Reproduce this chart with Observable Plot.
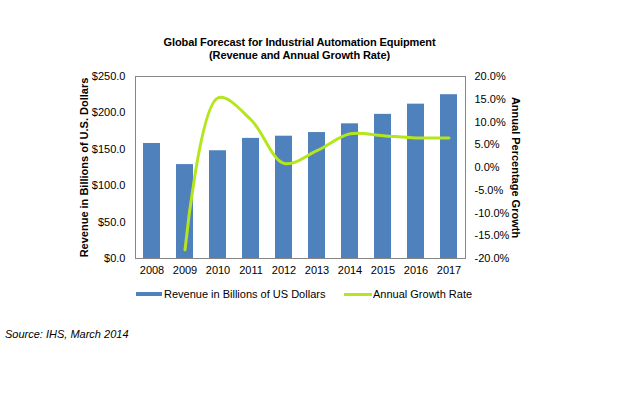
<!DOCTYPE html>
<html>
<head>
<meta charset="utf-8">
<script src="https://cdn.jsdelivr.net/npm/d3@7"></script>
<script src="https://cdn.jsdelivr.net/npm/@observablehq/plot@0.6"></script>
<style>
  html, body { margin: 0; padding: 0; background: #fff; }
  body { width: 617px; height: 394px; font-family: "Liberation Sans", Arial, sans-serif; color: #000; }
  #title { height: 62px; box-sizing: border-box; padding-top: 36px; padding-right: 18px; text-align: center; font-weight: bold; font-size: 11px; line-height: 13px; letter-spacing: -0.1px; }
  #legend { position: relative; height: 22px; font-size: 11px; }
  #legend .sw { position: absolute; }
  #legend .lab { position: absolute; top: 4px; line-height: 13px; white-space: nowrap; }
  #source { position: relative; height: 20px; font-size: 11px; font-style: italic; }
  #source span { position: absolute; left: 5px; top: 22px; }
</style>
</head>
<body>
<div id="title">Global Forecast for Industrial Automation Equipment<br>(Revenue and Annual Growth Rate)</div>
<div id="chart"></div>
<div id="legend">
  <div class="sw" style="left:136px; top:8px; width:26px; height:4px; background:#4f81bd;"></div>
  <div class="lab" style="left:164px;">Revenue in Billions of US Dollars</div>
  <div class="sw" style="left:344px; top:9px; width:28px; height:2.5px; background:#b5e61d;"></div>
  <div class="lab" style="left:373px;">Annual Growth Rate</div>
</div>
<div id="source"><span>Source: IHS, March 2014</span></div>
<script>
const years = ["2008","2009","2010","2011","2012","2013","2014","2015","2016","2017"];
const revenue = [158, 129, 148, 165, 168, 173, 185, 198, 212, 225];
const growth = [null, -18.1, 15.3, 10.5, 0.9, 3.7, 7.4, 7.0, 6.5, 6.5];
const revTicks = [0, 50, 100, 150, 200, 250];
const pctTicks = [-20, -15, -10, -5, 0, 5, 10, 15, 20];

const toRev = g => (g + 20) / 40 * 250;
const fromRev = v => v / 250 * 40 - 20;

const bars = years.map((y, i) => ({year: y, revenue: revenue[i]}));
const line = years.map((y, i) => ({year: y, growth: growth[i]})).filter(d => d.growth != null);

const font = "Liberation Sans, Arial, sans-serif";

const chart = Plot.plot({
  width: 617,
  height: 222,
  marginLeft: 135,
  marginRight: 152,
  marginTop: 14,
  marginBottom: 26,
  style: {fontFamily: font, fontSize: "11px", color: "#000", background: "#fff"},
  x: {domain: years, paddingInner: 0.5, paddingOuter: 0.25},
  y: {domain: [0, 250]},
  marks: [
    Plot.barY(bars, {x: "year", y: "revenue", fill: "#4f81bd"}),
    Plot.frame({stroke: "#868686"}),
    Plot.line(line, {x: "year", y: d => toRev(d.growth), stroke: "#b5e61d", strokeWidth: 3, curve: "catmull-rom"}),
    Plot.axisX({tickSize: 0, tickPadding: 8, label: null, fontSize: 11}),
    Plot.axisY({anchor: "left", ticks: revTicks, tickSize: 0, tickPadding: 10, tickFormat: d => "$" + d.toFixed(1), label: null}),
    Plot.axisY({anchor: "right", ticks: pctTicks.map(toRev), tickSize: 0, tickPadding: 9, tickFormat: v => fromRev(v).toFixed(1) + "%", label: null}),
    Plot.text(["Revenue in Billions of U.S. Dollars"], {frameAnchor: "left", textAnchor: "middle", rotate: -90, dx: -51, fontWeight: "bold", fontSize: 11}),
    Plot.text(["Annual Percentage Growth"], {frameAnchor: "right", textAnchor: "middle", rotate: 90, dx: 50, fontWeight: "bold", fontSize: 11})
  ]
});
document.getElementById("chart").appendChild(chart);
</script>
</body>
</html>
